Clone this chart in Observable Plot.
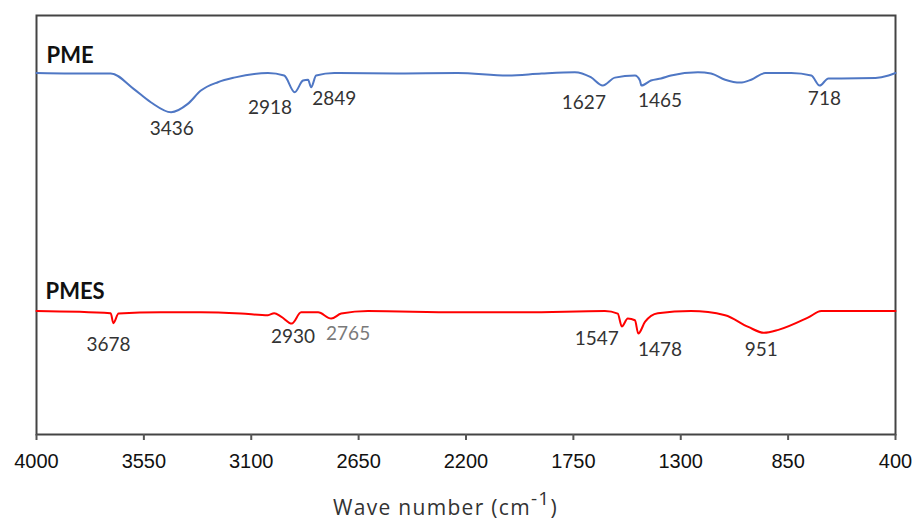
<!DOCTYPE html>
<html>
<head>
<meta charset="utf-8">
<script src="https://cdn.jsdelivr.net/npm/d3@7"></script>
<script src="https://cdn.jsdelivr.net/npm/@observablehq/plot@0.6"></script>
<style>
  html, body { margin: 0; padding: 0; background: #fff; }
  #chart { width: 916px; height: 521px; }
</style>
</head>
<body>
<div id="chart"></div>
<script>
// ---- data ----
const xTicks = [4000, 3550, 3100, 2650, 2200, 1750, 1300, 850, 400];

const pmeWave = [4000,3857,3689,3593,3521,3436,3366,3311,3240,3172,3030,2962,2918,2883,2862,2849,2828,2752,2471,2236,2026,1883,1744,1677,1627,1576,1492,1471,1465,1425,1383,1341,1228,1173,1114,1051,1005,946,837,753,718,681,627,484,429,400];
const pmeT    = [86.2,86.1,86.1,82.4,79.2,76.8,78.8,82.0,84.0,85.1,86.2,85.6,81.6,84.4,84.6,82.8,85.6,86.2,86.1,86.2,85.6,86.1,86.4,85.2,83.2,85.1,85.6,84.4,83.2,84.4,84.9,85.6,86.4,86.1,84.6,83.9,84.6,86.2,86.2,85.6,83.2,84.9,84.9,85.0,85.6,86.2];

const pmesWave = [4000,3689,3678,3656,3479,3311,3143,3030,3004,2975,2930,2891,2820,2765,2723,2610,2236,1954,1618,1564,1547,1522,1492,1478,1450,1396,1257,1114,1017,951,891,765,711,400];
const pmesT    = [29.1,28.6,26.2,28.5,28.8,28.8,28.5,28.1,28.6,27.8,26.1,28.8,28.8,27.3,28.5,29.1,28.8,28.8,29.1,28.5,25.4,27.3,26.9,23.7,26.5,28.6,29.1,28.1,25.3,23.9,24.6,27.6,29.1,29.1];

// peak annotations: label, label position (wave number, transmittance)
const pmePeakLabels = ["3436","2918","2849","1627","1465","718"];
const pmePeakX      = [3433, 3021, 2752, 1706, 1387, 698];
const pmePeakY      = [72.9, 77.9, 80.1, 79.1, 79.6, 79.9];

const pmesPeakLabels = ["3678","2930","2765","1547","1478","951"];
const pmesPeakX      = [3698, 2925, 2694, 1652, 1387, 963];
const pmesPeakY      = [21.1, 22.8, 23.7, 22.5, 19.9, 19.9];
const pmesPeakFaint  = [false, false, true, false, false, false];

const seriesNames = ["PME", "PMES"];
const seriesLabelX = [3958, 3962];
const seriesLabelY = [90.4, 33.6];

// ---- build tables ----
const pme = pmeWave.map((w, i) => ({w, t: pmeT[i]}));
const pmes = pmesWave.map((w, i) => ({w, t: pmesT[i]}));
const pmePeaks = pmePeakLabels.map((s, i) => ({s, x: pmePeakX[i], y: pmePeakY[i], faint: false}));
const pmesPeaks = pmesPeakLabels.map((s, i) => ({s, x: pmesPeakX[i], y: pmesPeakY[i], faint: pmesPeakFaint[i]}));
const peaks = pmePeaks.concat(pmesPeaks);
const series = seriesNames.map((s, i) => ({s, x: seriesLabelX[i], y: seriesLabelY[i]}));

const numFont = "Lato, 'Open Sans', sans-serif";

const chart = Plot.plot({
  width: 916,
  height: 521,
  marginLeft: 36,
  marginRight: 21,
  marginTop: 15,
  marginBottom: 87,
  style: {background: "#fff", overflow: "visible"},
  x: {domain: [4000, 400]},
  y: {domain: [-0.5, 100], axis: null},
  marks: [
    Plot.frame({stroke: "#444", strokeWidth: 2}),
    Plot.axisX({
      ticks: xTicks,
      tickFormat: d => String(d),
      tickSize: 6,
      tickPadding: 13,
      stroke: "#555",
      strokeWidth: 2,
      fontSize: 20,
      fontFamily: "'Liberation Sans', Arial, sans-serif",
      fill: "#111",
      label: null
    }),
    Plot.line(pme, {x: "w", y: "t", stroke: "#4f77c4", strokeWidth: 2, curve: "monotone-x"}),
    Plot.line(pmes, {x: "w", y: "t", stroke: "#ff0000", strokeWidth: 2, curve: "monotone-x"}),
    Plot.text(peaks, {
      x: "x", y: "y", text: "s",
      fill: d => d.faint ? "#7a7a7a" : "#333",
      fontSize: 19, fontFamily: numFont
    }),
    Plot.text(series, {
      x: "x", y: "y", text: "s",
      textAnchor: "start", fill: "#111",
      fontSize: 22, fontWeight: "bold", fontFamily: numFont
    })
  ]
});

// axis title with superscript
const svg = d3.select(chart);
const title = svg.append("text")
  .attr("x", 333)
  .attr("y", 515)
  .attr("text-anchor", "start")
  .attr("fill", "#333")
  .attr("font-family", "'Open Sans', Lato, sans-serif")
  .attr("font-size", 21)
  .attr("letter-spacing", "1.3px");
title.append("tspan").text("Wave number (cm");
title.append("tspan").attr("dy", -10).attr("font-size", 19).text("-1");
title.append("tspan").attr("dy", 10).text(")");

document.getElementById("chart").appendChild(chart);
</script>
</body>
</html>
